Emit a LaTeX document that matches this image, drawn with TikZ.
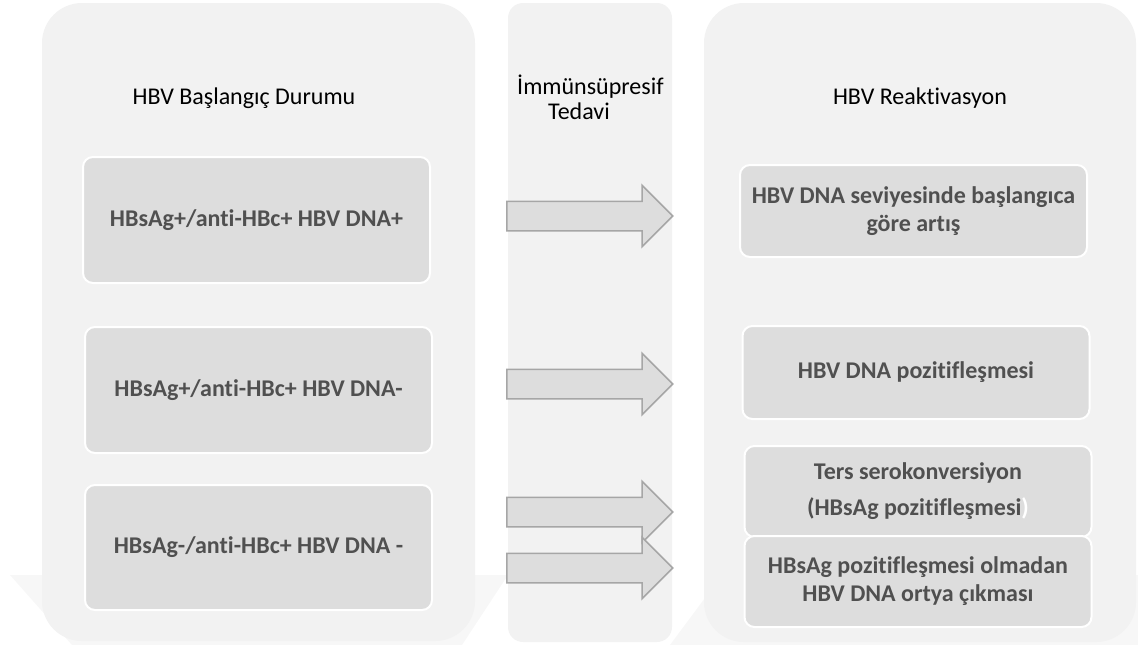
\documentclass[tikz,border=0pt]{standalone}
\usepackage{fontspec}
\setmainfont{Carlito}[Ligatures={NoCommon}]
\usetikzlibrary{shapes.arrows}
\definecolor{panelbg}{HTML}{F2F2F2}
\definecolor{boxbg}{HTML}{DDDDDD}
\definecolor{boxtxt}{HTML}{505050}
\definecolor{arrowline}{HTML}{A6A6A6}
\definecolor{wmark}{HTML}{F7F7F7}
\begin{document}
\begin{tikzpicture}[x=1pt,y=-1pt,
 panel/.style={fill=panelbg, draw=none, inner sep=0pt},
 head/.style={font=\fontsize{24pt}{25pt}\selectfont, text=black, align=center, inner sep=0pt},
 itembox/.style={fill=boxbg, draw=white, line width=2pt, rounded corners=10pt, inner sep=0pt, align=center, text=boxtxt, font=\fontsize{24pt}{28pt}\selectfont\bfseries, minimum width=347pt},
 blockarrow/.style={single arrow, fill=boxbg, draw=arrowline, line width=1.5pt, inner sep=0pt, inner ysep=14pt, single arrow head extend=16pt, minimum height=166pt, anchor=west}
]
\useasboundingbox (0,0) rectangle (1138,645);
% faint watermark band
\fill[wmark] (10,575) -- (508,575) -- (462,645) -- (72,645) -- cycle;
\fill[wmark] (722,575) -- (1138,575) -- (1138,645) -- (670,645) -- cycle;
% panels
\node[panel, rounded corners=40pt, minimum width=433pt, minimum height=638pt] (pleft) at (258.5,322) {};
\node[panel, rounded corners=15pt, minimum width=164pt, minimum height=639pt] (pmid) at (590,322.5) {};
\node[panel, rounded corners=40pt, minimum width=432pt, minimum height=639pt] (pright) at (920,322.5) {};
% headers
\node[head] (hleft) at (244,98) {HBV Başlangıç Durumu};
\node[head, align=left, anchor=west] (hmid) at (517,97.5) {İmmünsüpresif\\\hspace*{31pt}Tedavi};
\node[head] (hright) at (920,98) {HBV Reaktivasyon};
% left boxes
\node[itembox, minimum height=126pt] (l1) at (256.5,220) {HBsAg+/anti-HBc+ HBV DNA+};
\node[itembox, minimum height=126pt] (l2) at (258.5,390) {HBsAg+/anti-HBc+ HBV DNA-};
\node[itembox, minimum height=125pt] (l3) at (258.5,547.5) {HBsAg-/anti-HBc+ HBV DNA -};
% right boxes
\node[itembox, minimum height=92pt] (r1) at (913.5,211) {HBV DNA seviyesinde başlangıca\\göre artış};
\node[itembox, minimum height=93pt] (r2) at (916,372.5) {HBV DNA pozitifleşmesi};
\node[itembox, minimum height=91pt] (r3) at (918,491.5) {Ters serokonversiyon\\[8pt](HBsAg pozitifleşmesi\textcolor{white}{)}};
\node[itembox, minimum height=91pt] (r4) at (918,581.5) {HBsAg pozitifleşmesi olmadan\\HBV DNA ortya çıkması};
% block arrows
\node[blockarrow] (a1) at (506,216) {};
\node[blockarrow] (a2) at (506,384) {};
\node[blockarrow] (a3) at (506,512) {};
\node[blockarrow] (a4) at (506,568) {};
\end{tikzpicture}
\end{document}
